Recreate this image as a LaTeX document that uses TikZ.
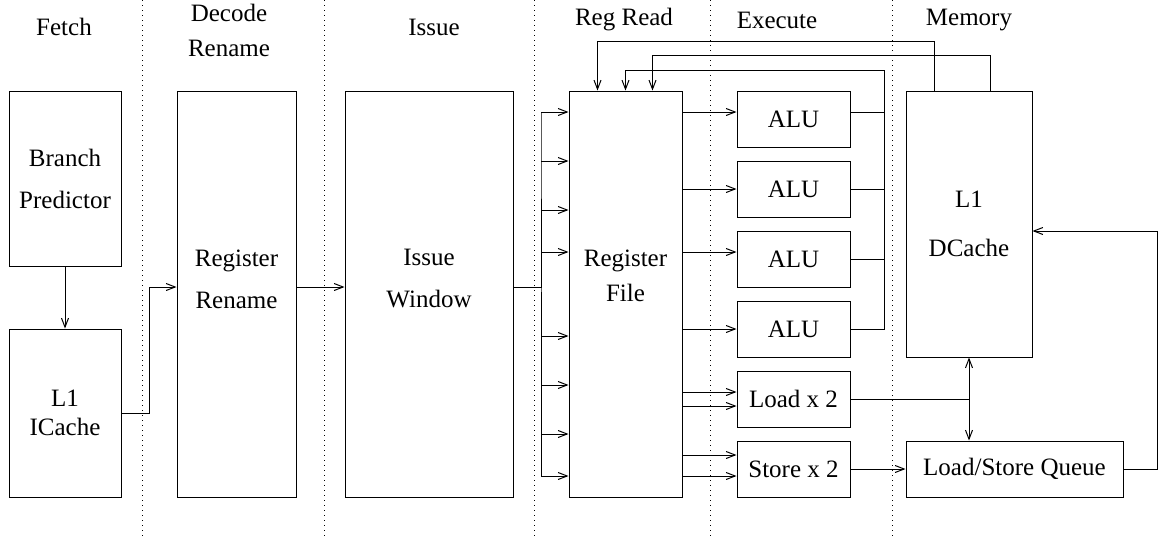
\documentclass[tikz,border=0pt]{standalone}
\usepackage{fontspec}
\setmainfont{Liberation Serif}
\usetikzlibrary{arrows.meta}

\begin{document}
\begin{tikzpicture}[x=0.5pt, y=-0.5pt, line width=0.5pt,
        font=\fontsize{12.5}{14.5}\selectfont,
        blk/.style={draw, inner sep=0pt, align=center},
        unit/.style={blk, minimum width=56.5pt, minimum height=28pt},
        stage/.style={dotted},
        arr/.style={-{Straight Barb[length=4.5pt,width=3.5pt]}},
        biarr/.style={{Straight Barb[length=4.5pt,width=3.5pt]}-{Straight Barb[length=4.5pt,width=3.5pt]}}]

    \useasboundingbox (0,0) rectangle (1158,541);

    % stage separators
    \foreach \x in {142,324,534,710,892}
        \draw[stage] (\x,0) -- (\x,537);

    % stage names
    \node (fetch) at (64,27) {Fetch};
    \node[align=center] (decode) at (229,30) {Decode\\[3pt]Rename};
    \node (issue) at (434,27) {Issue};
    \node (regread) at (624,20) {Reg Read};
    \node (execute) at (777,20) {Execute};
    \node (memory) at (969,20) {Memory};

    % blocks
    \node[blk, minimum width=56pt, minimum height=87.5pt] (bp) at (65,178.5) {Branch\\[6.5pt]Predictor};
    \node[blk, minimum width=56pt, minimum height=84pt] (ic) at (65,413) {L1\\ICache};
    \node[blk, minimum width=59.5pt, minimum height=203pt] (rr) at (236.5,294) {};
    \node[align=center, yshift=7.5pt] (rrtxt) at (rr) {Register\\[6.5pt]Rename};
    \node[blk, minimum width=84pt, minimum height=203pt] (iw) at (429,294) {};
    \node[align=center, yshift=7.5pt] (iwtxt) at (iw) {Issue\\[6.5pt]Window};
    \node[blk, minimum width=56.5pt, minimum height=203pt] (rf) at (625.5,294) {};
    \node[align=center, yshift=9.25pt] (rftxt) at (rf) {Register\\[3pt]File};
    \foreach \n/\y/\t in {alu1/119/ALU, alu2/189/ALU, alu3/259/ALU, alu4/329/ALU, ld/399/Load x 2, st/469/Store x 2}
        \node[unit] (\n) at (793.5,\y) {\t};
    \node[blk, minimum width=63pt, minimum height=133pt] (dc) at (969,224) {L1\\[10pt]DCache};
    \node[blk, minimum width=108.5pt, minimum height=28pt] (lsq) at (1014.5,469) {Load/Store Queue};

    % front end
    \draw[arr] (bp.south) -- (ic.north);
    \draw[arr] (ic.east) -- ++(28,0) |- ([yshift=3.5pt]rr.west);
    \draw[arr] ([yshift=3.5pt]rr.east) -- ([yshift=3.5pt]iw.west);

    % issue bus
    \coordinate (busT) at (541,112);
    \coordinate (busB) at (541,476);
    \draw ([yshift=3.5pt]iw.east) -| (busT) -- (busB);
    \foreach \y in {112,161,210,252,336,385,434,476}
        \draw[arr] (busT |- 0,\y) -- (rf.west |- 0,\y);

    % register read ports
    \foreach \n/\y in {alu1/112, alu2/189, alu3/252, alu4/329, ld/392, ld/406, st/455, st/476}
        \draw[arr] (rf.east |- 0,\y) -- (\n.west |- 0,\y);

    % writeback
    \draw[arr] (alu4.east) -- ++(34,0) -- ++(0,-259) -| (rf.north);
    \draw ([yshift=3.5pt]alu1.east) -- ++(34,0);
    \draw (alu2.east) -- ++(34,0);
    \draw (alu3.east) -- ++(34,0);
    \draw[arr] ([xshift=-17.5pt]dc.north) -- ++(0,-49) -| ([xshift=-14pt]rf.north);
    \draw[arr] ([xshift=10.5pt]dc.north) -- ++(0,-35) -| ([xshift=13.5pt]rf.north);

    % memory
    \draw[biarr] (dc.south) -- (dc.south |- lsq.north);
    \draw (ld.east) -- (dc.south |- ld.east);
    \draw[arr] (st.east) -- (lsq.west);
    \draw[arr] (lsq.east) -- ++(34,0) |- ([yshift=-3.5pt]dc.east);
\end{tikzpicture}
\end{document}
